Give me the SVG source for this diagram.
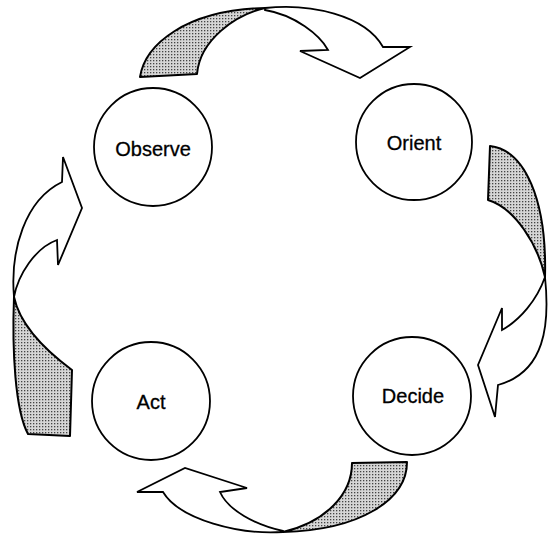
<svg xmlns="http://www.w3.org/2000/svg" width="548" height="538" viewBox="0 0 548 538">
<defs>
<pattern id="dots" width="3" height="3" patternUnits="userSpaceOnUse">
<rect width="3" height="3" fill="#d6d6d6"/>
<rect width="1.3" height="1.3" fill="#444"/>
</pattern>
<style>
.node{fill:#fff;stroke:#000;stroke-width:1.8}
.lbl{font-family:"Liberation Sans",Arial,sans-serif;font-size:20px;fill:#000;stroke:#000;stroke-width:0.3;text-anchor:middle}
.sh{fill:url(#dots);stroke:#000;stroke-width:2;stroke-linejoin:round}
.wh{fill:#fff;stroke:#000;stroke-width:1.8;stroke-linejoin:miter}
</style>
</defs>
<rect width="548" height="538" fill="#fff"/>
<g id="connectors">
<g id="arrow-observe-orient">
<path class="sh" d="M140,77 C145,45 185,10 265,8 C235,15 200,40 197,74 Z"/>
<path class="wh" d="M265,8 C310,3 365,15 383,47 L410,47 L360,78 L300,51 L328,50 C320,35 295,15 265,10 Z"/>
</g>
<g id="arrow-orient-decide">
<path class="sh" d="M490,146 C525,150 547,200 545,277 C538,245 515,208 488,200 Z"/>
<path class="wh" d="M545,277 C550,325 545,372 498,385 L495,417 L478,365 L502,308 L502,330 C520,320 537,300 545,277 Z"/>
</g>
<g id="arrow-decide-act">
<path class="sh" d="M352,463 L407,462 C407,500 360,530 283,532 C325,522 352,495 352,463 Z"/>
<path class="wh" d="M283,532 C240,535 180,520 163,492 L137,492 L185,468 L247,488 L220,492 C228,510 255,525 283,531 Z"/>
</g>
<g id="arrow-act-observe">
<path class="sh" d="M14,297 C12,350 15,410 28,434 L70,436 L72,370 C45,350 20,325 14,297 Z"/>
<path class="wh" d="M14,297 C10,250 25,200 62,182 L63,157 L82,208 L58,265 L57,240 C35,248 18,275 14,297 Z"/>
</g>
</g>
<g id="observe">
<circle class="node" cx="153" cy="147" r="59"/>
<text class="lbl" x="153" y="156">Observe</text>
</g>
<g id="orient">
<circle class="node" cx="414" cy="142" r="58"/>
<text class="lbl" x="414" y="150">Orient</text>
</g>
<g id="decide">
<circle class="node" cx="412" cy="396" r="59"/>
<text class="lbl" x="413" y="403">Decide</text>
</g>
<g id="act">
<circle class="node" cx="151" cy="401" r="59"/>
<text class="lbl" x="151" y="409">Act</text>
</g>
</svg>
